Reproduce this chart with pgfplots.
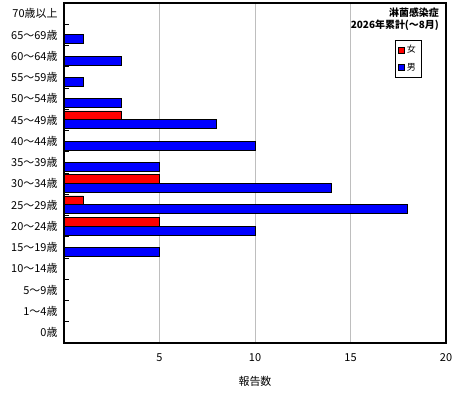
\documentclass[border=0pt]{standalone}
\usepackage{pgfplots}
\pgfplotsset{compat=1.18}
\usepackage{fontspec}
\setmainfont{Noto Sans CJK JP}
\definecolor{barred}{RGB}{255,0,0}
\definecolor{barblue}{RGB}{0,0,255}
\definecolor{gridgray}{RGB}{190,190,190}
\begin{document}
\begin{tikzpicture}
\useasboundingbox (0,0) rectangle (460bp,400bp);
\begin{axis}[
    at={(64bp,57bp)},
    anchor=south west,
    scale only axis,
    width=382bp,
    height=340bp,
    xbar=0pt,
    bar width=0.42,
    y dir=reverse,
    xmin=0, xmax=20,
    ymin=-0.5, ymax=15.5,
    xtick={5,10,15,20},
    ytick={0,...,15},
    yticklabels={70歳以上,65～69歳,60～64歳,55～59歳,50～54歳,45～49歳,40～44歳,35～39歳,30～34歳,25～29歳,20～24歳,15～19歳,10～14歳,5～9歳,1～4歳,0歳},
    extra y ticks={0.5,1.5,...,14.5},
    extra y tick labels={},
    extra y tick style={major tick length=4.5bp, tick style={black, line width=1bp}},
    tick pos=left,
    tick align=inside,
    major tick length=0pt,
    xmajorgrids,
    major x grid style={gridgray, line width=0.8bp},
    axis line style={line width=1.2bp},
    ticklabel style={font=\fontsize{11}{12}\selectfont},
    /pgf/number format/assume math mode=true,
    xticklabel style={yshift=-7bp},
    yticklabel style={xshift=-3bp},
    xlabel={報告数},
    xlabel style={font=\fontsize{11}{12}\selectfont, yshift=-8bp},
    legend style={at={(0.935,0.891)}, anchor=north east, draw=black, line width=0.6bp,
        font=\fontsize{9}{10}\selectfont, row sep=5bp, inner sep=3bp},
    legend cell align=left,
    legend image code/.code={\draw[#1, line width=0.5bp] (0bp,-3bp) rectangle (6bp,3bp);},
]
\addplot[fill=barred, draw=black, line width=0.8bp] coordinates {
    (3,5) (5,8) (1,9) (5,10)
};
\addplot[fill=barblue, draw=black, line width=0.8bp] coordinates {
    (1,1) (3,2) (1,3) (3,4) (8,5) (10,6) (5,7) (14,8) (18,9) (10,10) (5,11)
};
\legend{女,男}
\node[anchor=north east, align=right, font=\bfseries\fontsize{10}{12}\selectfont, inner sep=0pt]
    at (axis description cs:0.982,0.985) {淋菌感染症\\2026年累計(～8月)};
\end{axis}
\end{tikzpicture}
\end{document}
